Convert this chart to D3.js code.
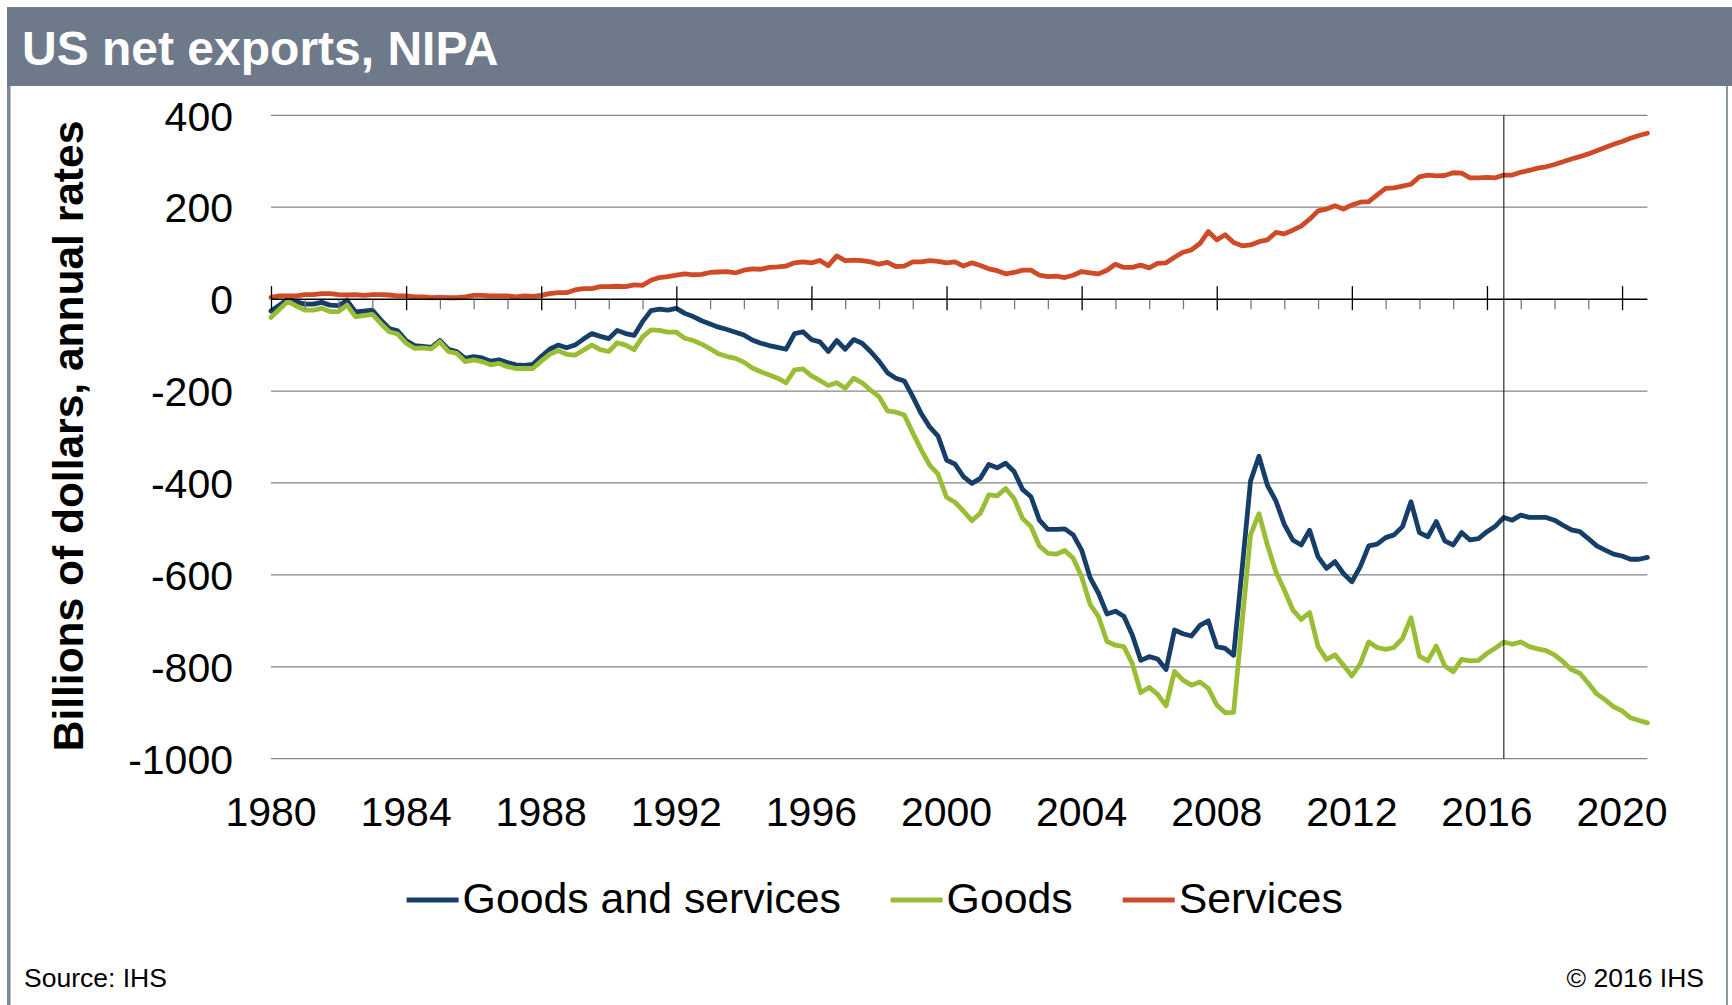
<!DOCTYPE html>
<html>
<head>
<meta charset="utf-8">
<title>US net exports, NIPA</title>
<script src="https://cdn.jsdelivr.net/npm/d3@7/dist/d3.min.js"></script>
<style>
  html, body { margin: 0; padding: 0; background: #ffffff; }
  svg { display: block; }
  text { font-family: "Liberation Sans", Arial, sans-serif; }
</style>
</head>
<body>
<svg id="chart" width="1732" height="1005"></svg>
<script>
// Quarterly observations, 1980Q1 .. 2020Q4 (billions of dollars, annual rates)
const startYear = 1980;
const quartersPerYear = 4;

const goodsAndServices = [
  -26, -13, 0, -6, -11, -11, -7, -13, -14, -3, -28, -26, -24, -45, -64, -69,
  -90, -101, -103, -105, -90, -109, -114, -129, -125, -128, -135, -132, -138, -143, -144, -142,
  -125, -109, -100, -106, -100, -87, -75, -81, -86, -68, -75, -79, -49, -25, -22, -24,
  -20, -31, -38, -47, -54, -61, -66, -72, -78, -89, -96, -101,
  -105, -109, -75, -71, -88, -93, -114, -90, -109, -88, -96, -114, -135, -160, -172, -178,
  -212, -249, -278, -298, -350, -359, -386, -401, -390, -360, -367, -357, -375, -414, -430, -481,
  -501, -501, -500, -513, -546, -606, -640, -685, -679, -690, -731, -786, -778, -783, -806, -720,
  -728, -733, -710, -700, -756, -760, -775,
  -588, -396, -342, -405, -439, -490, -524, -535, -503, -561, -586, -571, -597, -615, -582, -537,
  -533, -519, -513, -495, -441, -508, -517, -484, -526, -535, -508, -524, -521, -506, -494, -475,
  -481, -470, -475, -475, -475, -481, -492, -502, -506, -521, -537, -546, -555, -559, -566, -566,
  -562
];

const goods = [
  -40, -22, -5, -15, -24, -24, -20, -27, -27, -13, -38, -36, -33, -53, -71, -76,
  -96, -107, -106, -108, -93, -114, -118, -136, -132, -136, -143, -140, -147, -151, -151, -151,
  -135, -120, -112, -120, -122, -111, -100, -110, -114, -95, -100, -110, -82, -67, -68, -72,
  -72, -85, -90, -98, -108, -119, -125, -129, -137, -150, -158, -165,
  -172, -182, -154, -152, -167, -177, -188, -182, -194, -172, -182, -198, -212, -243, -246, -252,
  -291, -328, -361, -381, -431, -442, -461, -482, -466, -426, -428, -412, -434, -477, -495, -537,
  -553, -555, -547, -564, -604, -664, -691, -745, -753, -756, -793, -856, -845, -860, -885, -810,
  -829, -840, -833, -847, -883, -900, -899,
  -705, -513, -467, -535, -593, -633, -676, -697, -682, -756, -784, -774, -796, -820, -793, -746,
  -758, -762, -758, -738, -693, -777, -787, -755, -798, -811, -784, -787, -786, -771, -759, -746,
  -751, -746, -756, -761, -765, -774, -789, -806, -814, -836, -859, -872, -887, -896, -911, -917,
  -922
];

const services = [
  4, 7, 7, 7, 10, 10, 12, 12, 10, 9, 10, 8, 10, 10, 9, 7,
  7, 5, 5, 3, 4, 3, 3, 5, 8, 8, 7, 7, 7, 5, 7, 6,
  8, 12, 14, 14, 20, 23, 23, 27, 27, 28, 27, 31, 30, 41, 47, 49,
  52, 55, 53, 54, 58, 59, 60, 57, 63, 66, 65, 69, 70,
  72, 79, 81, 79, 84, 73, 94, 84, 85, 84, 81, 76, 80, 71, 72, 81,
  81, 84, 82, 79, 81, 72, 79, 73, 66, 62, 55, 58, 63, 63, 52, 49,
  50, 47, 52, 60, 57, 55, 63, 76, 69, 69,
  74, 68, 78, 79, 91, 102, 107, 121, 147, 129, 140, 123, 116, 118, 125, 129,
  145, 142, 150, 159, 174, 192, 196, 203, 196, 205, 211, 212, 227, 241, 242, 246,
  250, 266, 270, 268, 269, 275, 274, 264, 264, 265, 264, 270, 270, 276, 280, 285,
  288, 293, 299, 305, 310, 316, 323, 330, 337, 343, 350, 356, 361
];

const seriesNames = ["Goods and services", "Goods", "Services"];
const seriesColors = ["#153f69", "#9abd36", "#cf4a27"];
const yTicks = [400, 200, 0, -200, -400, -600, -800, -1000];
const xLabelYears = [1980, 1984, 1988, 1992, 1996, 2000, 2004, 2008, 2012, 2016, 2020];
const forecastStart = 2016.5; // start of projection period

const titleText = "US net exports, NIPA";
const yAxisTitle = "Billions of dollars, annual rates";
const sourceText = "Source: IHS";
const copyrightText = "\u00A9 2016 IHS";

// ---------------------------------------------------------------------------
const W = 1732, H = 1005;
const svg = d3.select("#chart");

const nPts = goods.length;
const x = d3.scaleLinear().domain([0, nPts - 1]).range([271, 1647.4]);
const y = d3.scaleLinear().domain([-1000, 400]).range([758.7, 115.3]);
const yearIndex = yr => (yr - startYear) * quartersPerYear;

// Frame: title banner and side rules
svg.append("rect").attr("x", 0).attr("y", 0).attr("width", W).attr("height", H).attr("fill", "#ffffff");
svg.append("rect").attr("x", 7).attr("y", 7).attr("width", W - 7).attr("height", 79).attr("fill", "#6e7a8a");
svg.append("rect").attr("x", 7).attr("y", 86).attr("width", 3.5).attr("height", H - 86).attr("fill", "#7c8797");
svg.append("rect").attr("x", 1726).attr("y", 86).attr("width", 2).attr("height", H - 86).attr("fill", "#8e98a5");

svg.append("text")
  .attr("x", 22).attr("y", 65)
  .attr("fill", "#ffffff")
  .attr("font-size", 48).attr("font-weight", "bold")
  .text(titleText);

// Horizontal gridlines
const plot = svg.append("g");
plot.append("g").selectAll("line")
  .data(yTicks.filter(d => d !== 0))
  .join("line")
  .attr("x1", x.range()[0]).attr("x2", x.range()[1])
  .attr("y1", d => y(d)).attr("y2", d => y(d))
  .attr("stroke", "#858585").attr("stroke-width", 1.3);

// Y axis labels (no axis line), plain hyphen for negatives
const yAxis = d3.axisLeft(y).tickValues(yTicks).tickSize(0).tickPadding(38).tickFormat(d => String(d));
const yAxisG = svg.append("g").attr("transform", `translate(${x.range()[0]},0)`).call(yAxis);
yAxisG.select(".domain").remove();
yAxisG.selectAll("text")
  .attr("font-family", "'Liberation Sans', Arial, sans-serif")
  .attr("font-size", 41).attr("fill", "#000000")
  .attr("dy", "0.36em");

// X axis at zero: minor ticks each year, major ticks every four years
const yearTicks = d3.range(startYear, 2021, 1);
const xAxisMinor = d3.axisBottom(x)
  .tickValues(yearTicks.filter(yr => (yr - startYear) % 4 !== 0).map(yearIndex))
  .tickSize(10).tickFormat("");
const minorG = svg.append("g").attr("transform", `translate(0,${y(0)})`).call(xAxisMinor);
minorG.select(".domain").remove();
minorG.selectAll("line").attr("stroke", "#7a7a7a").attr("stroke-width", 1.3);

const xAxisMajor = d3.axisBottom(x)
  .tickValues(xLabelYears.map(yearIndex))
  .tickSizeInner(11).tickSizeOuter(0).tickFormat("");
const majorG = svg.append("g").attr("transform", `translate(0,${y(0)})`).call(xAxisMajor);
majorG.select(".domain").attr("stroke", "#000000").attr("stroke-width", 1.5)
  .attr("d", `M${x.range()[0]},0H${x.range()[1]}`);
majorG.selectAll(".tick line").attr("y1", -13).attr("y2", 11).attr("stroke", "#000000").attr("stroke-width", 1.3);

// Year labels along the bottom of the plot
svg.append("g").selectAll("text")
  .data(xLabelYears)
  .join("text")
  .attr("x", d => x(yearIndex(d)))
  .attr("y", 826)
  .attr("text-anchor", "middle")
  .attr("font-size", 41).attr("fill", "#000000")
  .text(d => d);

// Series lines
const seriesData = [goodsAndServices, goods, services];
const line = d3.line().x((d, i) => x(i)).y(d => y(d));
plot.append("g").selectAll("path")
  .data(seriesData)
  .join("path")
  .attr("d", d => line(d))
  .attr("fill", "none")
  .attr("stroke", (d, i) => seriesColors[i])
  .attr("stroke-width", 4.8)
  .attr("stroke-linejoin", "round")
  .attr("stroke-linecap", "round");

// Projection divider
const fx = x(yearIndex(forecastStart));
svg.append("line")
  .attr("x1", fx).attr("x2", fx)
  .attr("y1", y(400)).attr("y2", y(-1000))
  .attr("stroke", "#000000").attr("stroke-width", 1);

// Y axis title
svg.append("text")
  .attr("transform", `translate(83,436) rotate(-90)`)
  .attr("text-anchor", "middle")
  .attr("font-size", 42.5).attr("font-weight", "bold").attr("fill", "#000000")
  .text(yAxisTitle);

// Legend
const legendX = [406.6, 890.6, 1122.7];
const legend = svg.append("g").selectAll("g")
  .data(seriesNames)
  .join("g")
  .attr("transform", (d, i) => `translate(${legendX[i]},0)`);
legend.append("line")
  .attr("x1", 0).attr("x2", 52).attr("y1", 900).attr("y2", 900)
  .attr("stroke", (d, i) => seriesColors[i]).attr("stroke-width", 5);
legend.append("text")
  .attr("x", 56).attr("y", 913)
  .attr("font-size", 42.8).attr("fill", "#000000")
  .text(d => d);

// Footer
svg.append("text").attr("x", 24).attr("y", 987).attr("font-size", 26.5).attr("fill", "#000000").text(sourceText);
svg.append("text").attr("x", 1704).attr("y", 987).attr("text-anchor", "end").attr("font-size", 26.5).attr("fill", "#000000").text(copyrightText);
</script>
</body>
</html>
